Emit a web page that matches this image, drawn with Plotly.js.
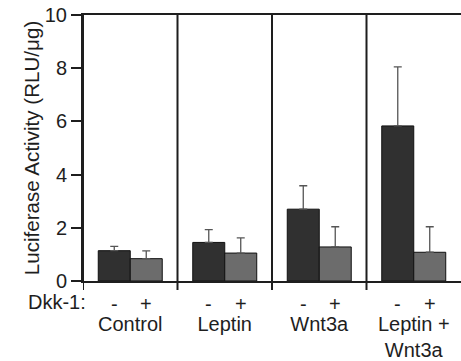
<!DOCTYPE html>
<html>
<head>
<meta charset="utf-8">
<script src="https://cdn.plot.ly/plotly-3.0.1.min.js"></script>
<style>html,body{margin:0;padding:0;background:#fff;}#chart{width:461px;height:361px;}</style>
</head>
<body>
<div id="chart"></div>
<script>
// Data
const groups = ['Control', 'Leptin', 'Wnt3a', 'Leptin +<br>Wnt3a'];
const dkkMinus = [1.14, 1.45, 2.70, 5.83];
const dkkMinusErr = [0.16, 0.48, 0.88, 2.22];
const dkkPlus = [0.84, 1.05, 1.28, 1.08];
const dkkPlusErr = [0.29, 0.57, 0.76, 0.96];
const signs = ['-', '+'];
const yTicks = [0, 2, 4, 6, 8, 10];

const FONT = 'Liberation Sans, Arial, sans-serif';
const LINE = '#1e1e1e';

function errBar(arr) {
  return {type: 'data', array: arr, arrayminus: arr.map(() => 0), symmetric: false,
          color: '#555555', thickness: 1.3, width: 4};
}

const traces = [
  {type: 'bar', x: groups, y: dkkMinus, name: signs[0], error_y: errBar(dkkMinusErr),
   marker: {color: '#303030', line: {color: '#111111', width: 1}}},
  {type: 'bar', x: groups, y: dkkPlus, name: signs[1], error_y: errBar(dkkPlusErr),
   marker: {color: '#6c6c6c', line: {color: '#111111', width: 1}}}
];

const shapes = [];
for (let i = 0; i < groups.length; i++) {
  shapes.push({type: 'line', xref: 'x', yref: 'paper', x0: i - 0.5, x1: i - 0.5,
               y0: -0.034, y1: 1, line: {color: LINE, width: 2}});
}

const annotations = [];
groups.forEach((g, i) => {
  signs.forEach((s, j) => {
    annotations.push({xref: 'x', yref: 'paper', x: i, y: -0.088, xshift: j === 0 ? -16 : 16,
      text: s, showarrow: false, xanchor: 'center', yanchor: 'middle',
      font: {family: FONT, size: 20, color: LINE}});
  });
});
annotations.push({xref: 'paper', yref: 'paper', x: 0.014, y: -0.08, text: 'Dkk-1:',
  showarrow: false, xanchor: 'right', yanchor: 'middle',
  font: {family: FONT, size: 20, color: LINE}});

const layout = {
  width: 461, height: 361,
  margin: {l: 83, r: 0, t: 15, b: 80, pad: 0},
  paper_bgcolor: '#ffffff', plot_bgcolor: '#ffffff',
  showlegend: false,
  barmode: 'group', bargap: 0.323, bargroupgap: 0,
  font: {family: FONT, size: 20, color: LINE},
  xaxis: {type: 'category', range: [-0.5, 3.5], showline: true, linecolor: LINE, linewidth: 2,
          mirror: true, showgrid: false, zeroline: false,
          ticks: 'outside', ticklen: 24, tickcolor: 'rgba(0,0,0,0)',
          tickfont: {family: FONT, size: 20, color: LINE}, automargin: false},
  yaxis: {range: [0, 10], tickvals: yTicks, ticktext: yTicks.map(String),
          showline: true, linecolor: LINE, linewidth: 2, showgrid: false, zeroline: false,
          ticks: 'outside', ticklen: 10, tickwidth: 2, tickcolor: LINE,
          tickfont: {family: FONT, size: 20, color: LINE}, automargin: false,
          title: {text: 'Luciferase Activity (RLU/μg)', font: {family: FONT, size: 20.6, color: LINE}, standoff: 0}},
  shapes: shapes,
  annotations: annotations
};

Plotly.newPlot('chart', traces, layout, {displayModeBar: false, staticPlot: true});
</script>
</body>
</html>
